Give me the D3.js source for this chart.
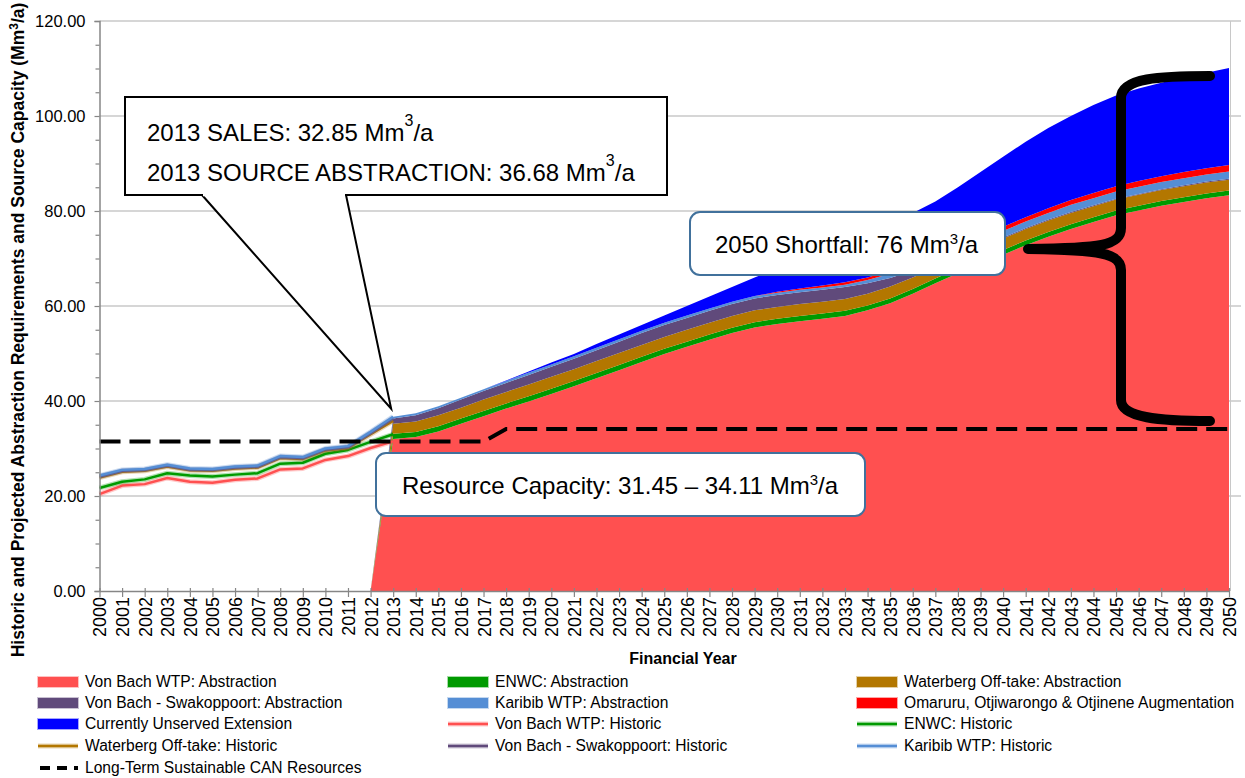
<!DOCTYPE html>
<html>
<head>
<meta charset="utf-8">
<script src="https://cdn.jsdelivr.net/npm/d3@7/dist/d3.min.js"></script>
<style>
  body { margin: 0; background: #fff; }
  svg { display: block; font-family: Arial, "Liberation Sans", sans-serif; }
</style>
</head>
<body>
<div id="chart"></div>
<script>
// category axis: financial years
const years = [2000, 2001, 2002, 2003, 2004, 2005, 2006, 2007, 2008, 2009,
  2010, 2011, 2012, 2013, 2014, 2015, 2016, 2017, 2018, 2019,
  2020, 2021, 2022, 2023, 2024, 2025, 2026, 2027, 2028, 2029,
  2030, 2031, 2032, 2033, 2034, 2035, 2036, 2037, 2038, 2039,
  2040, 2041, 2042, 2043, 2044, 2045, 2046, 2047, 2048, 2049, 2050];

// historic abstraction 2000-2013 (Mm3/a, per source)
const historicYears = years.slice(0, 14);
const vonBachHist = [20.4, 22.2, 22.5, 23.8, 23.0, 22.8, 23.4, 23.7, 25.6, 25.8, 27.6, 28.4, 30.1, 31.5];
const enwcHist = [1.3, 0.8, 1.0, 1.0, 1.3, 1.3, 1.1, 1.1, 1.2, 1.2, 1.3, 1.3, 1.3, 1.5];
const waterbergHist = [2.2, 2.1, 1.8, 1.4, 1.1, 1.2, 1.3, 1.2, 1.2, 0.8, 0.7, 0.4, 1.6, 2.8];
const swakoppoortHist = [0.2, 0.2, 0.2, 0.2, 0.2, 0.2, 0.2, 0.2, 0.2, 0.2, 0.2, 0.2, 0.3, 0.6];
const karibibHist = [0.2, 0.2, 0.2, 0.2, 0.2, 0.2, 0.2, 0.2, 0.2, 0.2, 0.2, 0.2, 0.2, 0.3];

// projected abstraction requirements 2013-2050 (Mm3/a, per source)
const projectedYears = years.slice(13);
const vonBachWTP = [32.0, 32.4, 33.6, 35.2, 36.8, 38.4, 39.9, 41.5, 43.1, 44.8,
  46.5, 48.2, 49.9, 51.4, 52.9, 54.3, 55.5, 56.2, 56.8, 57.3,
  57.9, 59.1, 60.6, 62.6, 64.8, 66.9, 68.9, 70.8, 72.8, 74.6,
  76.2, 77.7, 79.1, 80.1, 81.1, 81.9, 82.7, 83.3];
const enwc = [1.1, 1.1, 1.1, 1.1, 1.1, 1.1, 1.1, 1.1, 1.1, 1.1,
  1.1, 1.1, 1.1, 1.1, 1.1, 1.1, 1.1, 1.1, 1.1, 1.1,
  1.1, 1.0, 1.0, 1.0, 1.0, 1.0, 1.0, 1.0, 1.0, 1.0,
  1.0, 1.0, 1.0, 1.0, 1.0, 1.0, 1.0, 1.0];
const waterberg = [2.1, 2.2, 2.3, 2.3, 2.4, 2.4, 2.5, 2.5, 2.5, 2.5,
  2.5, 2.5, 2.5, 2.5, 2.5, 2.5, 2.5, 2.5, 2.5, 2.5,
  2.5, 2.5, 2.5, 2.4, 2.4, 2.4, 2.4, 2.4, 2.4, 2.4,
  2.4, 2.3, 2.3, 2.3, 2.3, 2.3, 2.3, 2.3];
const swakoppoort = [1.1, 1.3, 1.5, 1.7, 1.8, 1.9, 2.0, 2.1, 2.2, 2.3,
  2.4, 2.5, 2.5, 2.5, 2.5, 2.5, 2.5, 2.5, 2.5, 2.5,
  2.5, 2.2, 1.8, 1.4, 1.0, 0.6, 0.4, 0.2, 0.2, 0.2,
  0.2, 0.2, 0.2, 0.2, 0.2, 0.2, 0.2, 0.2];
const karibib = [0.4, 0.4, 0.4, 0.4, 0.4, 0.4, 0.5, 0.5, 0.5, 0.5,
  0.5, 0.5, 0.5, 0.5, 0.5, 0.5, 0.5, 0.5, 0.5, 0.5,
  0.5, 0.7, 0.9, 1.1, 1.2, 1.3, 1.4, 1.4, 1.4, 1.4,
  1.5, 1.5, 1.5, 1.5, 1.5, 1.5, 1.5, 1.5];
const omaruru = [0, 0, 0, 0, 0, 0, 0, 0, 0, 0,
  0, 0, 0, 0, 0, 0, 0, 0.2, 0.3, 0.4,
  0.5, 0.5, 0.6, 0.7, 0.7, 0.8, 0.8, 0.9, 0.9, 1.0,
  1.0, 1.1, 1.1, 1.2, 1.2, 1.3, 1.3, 1.4];
const unserved = [0, 0, 0, 0, 0, 0.1, 0.2, 0.4, 0.5, 0.8,
  1.0, 1.2, 1.5, 2.0, 2.5, 3.1, 3.9, 4.9, 6.1, 7.4,
  8.6, 9.6, 10.2, 10.4, 10.9, 12.0, 13.3, 14.7, 15.9, 16.9,
  17.7, 18.5, 19.1, 19.5, 19.7, 19.9, 20.1, 20.4];

// long-term sustainable resource capacity (break points of the dashed line)
const capacityYears = [2000, 2017, 2018, 2050];
const capacityValues = [31.45, 31.45, 34.11, 34.11];

const yTicks = [0, 20, 40, 60, 80, 100, 120];
const yMinorTicks = [5, 10, 15, 25, 30, 35, 45, 50, 55, 65, 70, 75, 85, 90, 95, 105, 110, 115];

// series definitions, in stacking order
const areaSeries = [
  { key: 'vonBach', label: 'Von Bach WTP: Abstraction', color: '#ff5050', values: vonBachWTP },
  { key: 'enwc', label: 'ENWC: Abstraction', color: '#009a00', values: enwc },
  { key: 'waterberg', label: 'Waterberg Off-take: Abstraction', color: '#b37700', values: waterberg },
  { key: 'swakoppoort', label: 'Von Bach - Swakoppoort: Abstraction', color: '#604a7b', values: swakoppoort },
  { key: 'karibib', label: 'Karibib WTP: Abstraction', color: '#558ed5', values: karibib },
  { key: 'omaruru', label: 'Omaruru, Otjiwarongo & Otjinene Augmentation', color: '#ff0000', values: omaruru },
  { key: 'unserved', label: 'Currently Unserved Extension', color: '#0000ff', values: unserved },
];
const lineSeries = [
  { key: 'vonBach', label: 'Von Bach WTP: Historic', color: '#ff5050', values: vonBachHist },
  { key: 'enwc', label: 'ENWC: Historic', color: '#009a00', values: enwcHist },
  { key: 'waterberg', label: 'Waterberg Off-take: Historic', color: '#b37700', values: waterbergHist },
  { key: 'swakoppoort', label: 'Von Bach - Swakoppoort: Historic', color: '#604a7b', values: swakoppoortHist },
  { key: 'karibib', label: 'Karibib WTP: Historic', color: '#558ed5', values: karibibHist },
];

const width = 1245;
const height = 778;
const plot = { left: 99.5, right: 1229, top: 21, bottom: 591 };

const svg = d3.select('#chart').append('svg')
  .attr('width', width)
  .attr('height', height);

const x = d3.scalePoint().domain(years).range([plot.left, plot.right]);
const y = d3.scaleLinear().domain([0, 120]).range([plot.bottom, plot.top]);

// right border of the plot area
svg.append('line')
  .attr('x1', 1230.5).attr('x2', 1230.5)
  .attr('y1', plot.top).attr('y2', plot.bottom)
  .attr('stroke', '#c8c8c8')
  .attr('stroke-width', 1);

// gridlines
svg.append('g')
  .selectAll('line')
  .data(yTicks.slice(1))
  .join('line')
  .attr('x1', plot.left)
  .attr('x2', 1241)
  .attr('y1', d => y(d))
  .attr('y2', d => y(d))
  .attr('stroke', '#c8c8c8')
  .attr('stroke-width', 1.5);

// stacked projected areas (zero before 2013, as in the source sheet)
const areaTable = years.map((year) => {
  const row = { year };
  const i = projectedYears.indexOf(year);
  areaSeries.forEach((s) => { row[s.key] = i < 0 ? 0 : s.values[i]; });
  return row;
});
const stackedAreas = d3.stack().keys(areaSeries.map(s => s.key))(areaTable);
const area = d3.area()
  .x(d => x(d.data.year))
  .y0(d => y(d[0]))
  .y1(d => y(d[1]));
svg.append('g')
  .selectAll('path')
  .data(stackedAreas)
  .join('path')
  .attr('d', area)
  .attr('fill', (d, i) => areaSeries[i].color);

// historic lines, cumulative
const histTable = historicYears.map((year, i) => {
  const row = { year };
  lineSeries.forEach((s) => { row[s.key] = s.values[i]; });
  return row;
});
const stackedHist = d3.stack().keys(lineSeries.map(s => s.key))(histTable);
const line = d3.line()
  .x(d => x(d.data.year))
  .y(d => y(d[1]));
const histGroup = svg.append('g').attr('fill', 'none');
stackedHist.forEach((series, i) => {
  // soft halo like the spreadsheet's glow
  histGroup.append('path')
    .attr('d', line(series))
    .attr('stroke', lineSeries[i].color)
    .attr('stroke-opacity', 0.3)
    .attr('stroke-width', 5)
    .attr('stroke-linejoin', 'round');
  histGroup.append('path')
    .attr('d', line(series))
    .attr('stroke', lineSeries[i].color)
    .attr('stroke-width', 2.5)
    .attr('stroke-linejoin', 'round');
});

// resource capacity dashed line
const capLine = d3.line()
  .x(d => x(d[0]))
  .y(d => y(d[1]));
svg.append('path')
  .attr('d', capLine(d3.zip(capacityYears, capacityValues)))
  .attr('fill', 'none')
  .attr('stroke', '#000')
  .attr('stroke-width', 4)
  .attr('stroke-dasharray', '21,9');

// y axis
const yAxis = svg.append('g')
  .attr('transform', `translate(${plot.left},0)`)
  .call(d3.axisLeft(y).tickValues(yTicks).tickFormat(d3.format('.2f')).tickSize(5).tickPadding(9));
svg.append('g')
  .attr('transform', `translate(${plot.left},0)`)
  .call(d3.axisLeft(y).tickValues(yMinorTicks).tickFormat('').tickSize(4))
  .call(g => g.select('.domain').remove());

// x axis
const xAxis = svg.append('g')
  .attr('transform', `translate(0,${plot.bottom})`)
  .call(d3.axisBottom(x).tickSize(6).tickSizeOuter(0).tickPadding(6));
xAxis.selectAll('.tick line').attr('y1', -3);

[yAxis, xAxis].forEach((g) => {
  g.select('.domain').attr('stroke', '#868686').attr('stroke-width', 1.5);
  g.selectAll('.tick text').attr('fill', '#000')
    .attr('font-family', 'Arial, "Liberation Sans", sans-serif');
});
yAxis.selectAll('.tick text').attr('font-size', 16.5);
xAxis.selectAll('.tick text')
  .attr('font-size', 18)
  .attr('transform', 'rotate(-90)')
  .attr('text-anchor', 'end')
  .attr('x', -6)
  .attr('y', 0)
  .attr('dy', '0.36em');
svg.selectAll('.tick line').attr('stroke', '#868686').attr('stroke-width', 1.2);

// axis titles
const yTitle = svg.append('text')
  .attr('transform', 'translate(24,330) rotate(-90)')
  .attr('text-anchor', 'middle')
  .attr('font-size', 17.5)
  .attr('font-weight', 'bold');
yTitle.append('tspan').text('Historic  and Projected Abstraction Requirements and Source Capacity (Mm');
yTitle.append('tspan').attr('font-size', 12).attr('dy', -6).text('3');
yTitle.append('tspan').attr('dy', 6).text('/a)');

svg.append('text')
  .attr('x', 683)
  .attr('y', 664)
  .attr('text-anchor', 'middle')
  .attr('font-size', 16)
  .attr('font-weight', 'bold')
  .text('Financial Year');

function supText(g, xPos, yPos, before, sup, after, size, supSize, shift) {
  const t = g.append('text')
    .attr('x', xPos)
    .attr('y', yPos)
    .attr('font-size', size)
    .attr('fill', '#000');
  t.append('tspan').text(before);
  t.append('tspan').attr('font-size', supSize).attr('dy', -shift).text(sup);
  t.append('tspan').attr('dy', shift).text(after);
  return t;
}

// callout: 2013 sales / abstraction
const tipX = x(2013) - 2;
const tipY = y(36.68) - 8;
const callout = svg.append('g');
callout.append('path')
  .attr('d', `M202,195 L${tipX},${tipY} L346,195`)
  .attr('fill', '#fff')
  .attr('stroke', '#000')
  .attr('stroke-width', 2)
  .attr('stroke-linejoin', 'miter');
callout.append('rect')
  .attr('x', 125).attr('y', 97)
  .attr('width', 542).attr('height', 98)
  .attr('fill', '#fff')
  .attr('stroke', '#000')
  .attr('stroke-width', 2);
callout.append('line')
  .attr('x1', 203).attr('x2', 345)
  .attr('y1', 195).attr('y2', 195)
  .attr('stroke', '#fff')
  .attr('stroke-width', 2.5);
supText(callout, 147, 141, '2013 SALES: 32.85 Mm', '3', '/a', 24, 16, 15);
supText(callout, 147, 181, '2013 SOURCE ABSTRACTION: 36.68 Mm', '3', '/a', 24, 16, 15);

// callout: shortfall
const shortfall = svg.append('g');
shortfall.append('rect')
  .attr('x', 690).attr('y', 212)
  .attr('width', 315).attr('height', 63)
  .attr('rx', 10)
  .attr('fill', '#fff')
  .attr('stroke', '#41719c')
  .attr('stroke-width', 2);
supText(shortfall, 715, 253, '2050 Shortfall: 76 Mm', '3', '/a', 24, 15, 9);

// callout: resource capacity
const capacity = svg.append('g');
capacity.append('rect')
  .attr('x', 376).attr('y', 453)
  .attr('width', 489).attr('height', 63)
  .attr('rx', 10)
  .attr('fill', '#fff')
  .attr('stroke', '#41719c')
  .attr('stroke-width', 2);
supText(capacity, 402, 494, 'Resource Capacity: 31.45 \u2013 34.11 Mm', '3', '/a', 24, 15, 9);

// curly brace spanning the shortfall
svg.append('path')
  .attr('d', 'M1210,76 C1160,76 1121,78 1121,98 L1121,228 C1121,246 1100,248 1028,249'
    + ' C1100,250 1121,253 1121,270 L1121,400 C1121,418 1160,421 1210,421')
  .attr('fill', 'none')
  .attr('stroke', '#000')
  .attr('stroke-width', 10)
  .attr('stroke-linecap', 'round')
  .attr('stroke-linejoin', 'round');

// legend, three columns, row-major
const legendItems = [
  ...areaSeries.map(s => ({ ...s, type: 'area' })),
  ...lineSeries.map(s => ({ ...s, type: 'line' })),
  { label: 'Long-Term Sustainable CAN Resources', color: '#000', type: 'dash' },
];
const legendCols = [38, 448, 857];
const legendRows = [682, 703, 724, 746, 768];
const legend = svg.append('g').attr('font-size', 15.6);
legendItems.forEach((item, i) => {
  const gx = legendCols[i % 3];
  const gy = legendRows[Math.floor(i / 3)];
  const g = legend.append('g').attr('transform', `translate(${gx},${gy})`);
  if (item.type === 'area') {
    g.append('rect')
      .attr('x', 0).attr('y', -5)
      .attr('width', 40).attr('height', 10)
      .attr('fill', item.color)
      .attr('stroke', item.color)
      .attr('stroke-opacity', 0.35)
      .attr('stroke-width', 2);
  } else if (item.type === 'line') {
    g.append('line')
      .attr('x1', 0).attr('x2', 40)
      .attr('stroke', item.color)
      .attr('stroke-opacity', 0.3)
      .attr('stroke-width', 5);
    g.append('line')
      .attr('x1', 0).attr('x2', 40)
      .attr('stroke', item.color)
      .attr('stroke-width', 2.5);
  } else {
    g.append('line')
      .attr('x1', 2).attr('x2', 40)
      .attr('stroke', '#000')
      .attr('stroke-width', 4)
      .attr('stroke-dasharray', '10,7');
  }
  g.append('text')
    .attr('x', 47)
    .attr('dy', '0.35em')
    .text(item.label);
});
</script>
</body>
</html>
